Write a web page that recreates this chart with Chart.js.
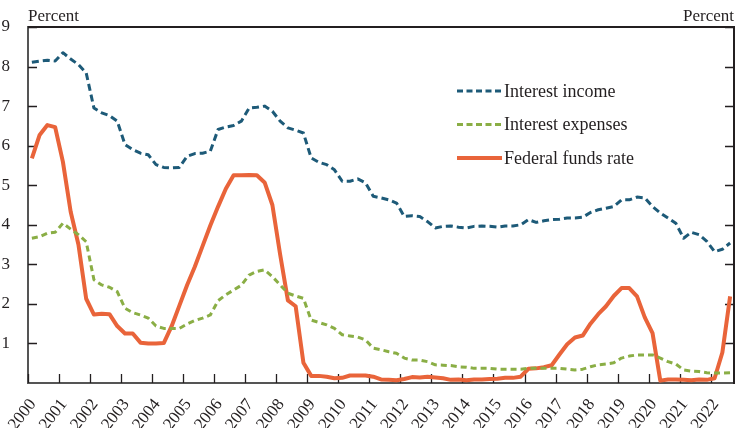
<!DOCTYPE html>
<html><head><meta charset="utf-8">
<script src="https://cdn.jsdelivr.net/npm/chart.js@4/dist/chart.umd.min.js"></script>
<style>
html,body{margin:0;padding:0;overflow:hidden;background:#fff;width:751px;height:428px}
canvas{display:block}
</style></head>
<body>
<canvas id="c" width="770" height="428" style="width:770px;height:428px"></canvas>
<script>
// Categories: quarterly observations, 2000 Q1 .. 2022 Q3
const years = [2000,2001,2002,2003,2004,2005,2006,2007,2008,2009,2010,2011,2012,2013,2014,2015,2016,2017,2018,2019,2020,2021,2022];
const quartersPerYear = 4;

// Series values (percent), one per quarter
const interestIncome = [
  8.11,8.14,8.16,8.14, 8.35,8.19,8.05,7.84, 6.95,6.83,6.76,6.62, 6.03,5.90,5.81,5.77,
  5.52,5.45,5.44,5.45, 5.73,5.80,5.81,5.86, 6.41,6.47,6.51,6.62, 6.95,6.97,7.00,6.87,
  6.62,6.45,6.39,6.32, 5.69,5.58,5.52,5.39, 5.10,5.10,5.16,5.06, 4.72,4.68,4.63,4.55,
  4.21,4.23,4.21,4.08, 3.92,3.96,3.97,3.94, 3.92,3.96,3.97,3.96, 3.94,3.97,3.97,4.00,
  4.13,4.06,4.10,4.13, 4.14,4.17,4.17,4.19, 4.31,4.38,4.42,4.46, 4.63,4.63,4.70,4.68,
  4.46,4.30,4.17,4.04, 3.66,3.81,3.75,3.58, 3.32,3.38,3.54
];
const interestExpenses = [
  3.66,3.70,3.79,3.81, 4.04,3.89,3.75,3.57, 2.61,2.48,2.42,2.31, 1.89,1.78,1.72,1.64,
  1.44,1.38,1.38,1.38, 1.49,1.58,1.64,1.72, 2.08,2.23,2.35,2.47, 2.73,2.82,2.86,2.69,
  2.48,2.27,2.20,2.14, 1.59,1.53,1.47,1.38, 1.22,1.19,1.16,1.09, 0.88,0.84,0.79,0.75,
  0.63,0.58,0.58,0.54, 0.46,0.45,0.44,0.41, 0.40,0.37,0.37,0.37, 0.35,0.35,0.35,0.35,
  0.37,0.37,0.37,0.37, 0.37,0.35,0.33,0.35, 0.41,0.46,0.48,0.51, 0.63,0.68,0.71,0.71,
  0.71,0.63,0.54,0.48, 0.33,0.30,0.29,0.26, 0.25,0.25,0.26
];
const fedFunds = [
  5.68,6.27,6.52,6.47, 5.59,4.33,3.50,2.13, 1.73,1.75,1.74,1.44, 1.25,1.25,1.02,1.00,
  1.00,1.01,1.43,1.95, 2.47,2.94,3.46,3.98, 4.46,4.91,5.25,5.25, 5.26,5.25,5.07,4.50,
  3.25,2.09,1.94,0.51, 0.18,0.18,0.16,0.12, 0.13,0.19,0.19,0.19, 0.16,0.09,0.08,0.07,
  0.10,0.15,0.14,0.16, 0.14,0.12,0.08,0.09, 0.07,0.09,0.09,0.10, 0.11,0.13,0.13,0.16,
  0.36,0.37,0.40,0.45, 0.72,0.98,1.15,1.20, 1.50,1.74,1.94,2.20, 2.40,2.40,2.19,1.66,
  1.26,0.06,0.09,0.09, 0.08,0.07,0.09,0.08, 0.12,0.77,2.19
];

// Tick labels
const xTickYears = years;
const yTickValues = [1,2,3,4,5,6,7,8,9];
const seriesNames = ["Interest income","Interest expenses","Federal funds rate"];
const axisTitle = "Percent";

// ---- build the chart ----
const COLORS = { income:'#1d5a78', expenses:'#8aae45', fed:'#e9643a', text:'#231f20' };
const FONT = '"Liberation Serif", "Times New Roman", serif';

function toPoints(vals){
  return vals.map((v,i)=>({ x: years[0] + (i + 0.5) / quartersPerYear, y: v }));
}

const legendItems = [
  { label: seriesNames[0], color: COLORS.income, dash:[6,3.5], width:3 },
  { label: seriesNames[1], color: COLORS.expenses, dash:[6,3.5], width:3 },
  { label: seriesNames[2], color: COLORS.fed, dash:[], width:4 }
];

const decor = {
  id:'decor',
  beforeDatasetsDraw(chart){
    const {ctx, chartArea:a, scales} = chart;
    ctx.save();
    ctx.strokeStyle = '#231f20';
    ctx.lineWidth = 1.3;
    ctx.beginPath();
    xTickYears.forEach(yr=>{
      const px = Math.round(scales.x.getPixelForValue(yr)) + 0.5;
      ctx.moveTo(px, a.bottom); ctx.lineTo(px, a.bottom - 9);
    });
    yTickValues.forEach(v=>{
      const py = Math.round(scales.y.getPixelForValue(v)) + 0.5;
      ctx.moveTo(a.left, py); ctx.lineTo(a.left + 9, py);
      ctx.moveTo(a.right, py); ctx.lineTo(a.right - 9, py);
    });
    ctx.stroke();
    // top frame line
    ctx.lineWidth = 2;
    ctx.beginPath();
    ctx.moveTo(a.left, a.top); ctx.lineTo(a.right + 1, a.top);
    ctx.stroke();
    ctx.restore();
  },
  afterDraw(chart){
    const {ctx, chartArea:a} = chart;
    ctx.save();
    ctx.fillStyle = COLORS.text;
    ctx.font = '17px ' + FONT;
    ctx.textBaseline = 'alphabetic';
    ctx.textAlign = 'left';
    ctx.fillText(axisTitle, a.left, a.top - 6);
    ctx.textAlign = 'right';
    ctx.fillText(axisTitle, a.right, a.top - 6);
    // legend
    const lx0 = 457, lx1 = 502, ly0 = 91, step = 33.5;
    legendItems.forEach((it, i)=>{
      const y = ly0 + i * step;
      ctx.strokeStyle = it.color;
      ctx.lineWidth = it.width;
      ctx.setLineDash(it.dash);
      ctx.beginPath(); ctx.moveTo(lx0, y); ctx.lineTo(lx1, y); ctx.stroke();
      ctx.setLineDash([]);
      ctx.fillStyle = COLORS.text;
      ctx.font = '18px ' + FONT;
      ctx.textAlign = 'left';
      ctx.textBaseline = 'middle';
      ctx.fillText(it.label, lx1 + 2, y + 1);
    });
    ctx.restore();
  }
};

const tickFont = { family: FONT, size: 17 };

new Chart(document.getElementById('c'), {
  type:'line',
  data:{
    datasets:[
      { label: seriesNames[0], data: toPoints(interestIncome), borderColor: COLORS.income, borderWidth:3, borderDash:[7,4], pointRadius:0, tension:0, borderJoinStyle:'round', yAxisID:'y' },
      { label: seriesNames[1], data: toPoints(interestExpenses), borderColor: COLORS.expenses, borderWidth:3, borderDash:[6,4], pointRadius:0, tension:0, borderJoinStyle:'round', yAxisID:'y' },
      { label: seriesNames[2], data: toPoints(fedFunds), borderColor: COLORS.fed, borderWidth:4, pointRadius:0, tension:0, borderJoinStyle:'round', yAxisID:'y' }
    ]
  },
  options:{
    responsive:false,
    animation:false,
    layout:{ padding:{ top:27, left:0, right:0, bottom:0 } },
    plugins:{ legend:{ display:false }, tooltip:{ enabled:false } },
    scales:{
      x:{
        type:'linear',
        min: years[0],
        max: years[years.length-1] + 0.75,
        grid:{ display:false },
        border:{ display:true, color:'#555', width:2 },
        ticks:{
          stepSize:1, includeBounds:false, autoSkip:false,
          minRotation:52, maxRotation:52, padding:4, labelOffset:5,
          color: COLORS.text, font: tickFont,
          callback: v => String(v)
        },
        afterFit: s => { s.height = 45; }
      },
      y:{
        position:'left', min:0, max:9,
        grid:{ display:false },
        border:{ display:true, color:'#555', width:2 },
        ticks:{ stepSize:1, padding:10, color: COLORS.text, font: tickFont, callback: v => v === 0 ? '' : String(v) },
        afterFit: s => { s.width = 28; }
      },
      y2:{
        position:'right', min:0, max:9,
        grid:{ display:false },
        border:{ display:true, color:'#231f20', width:2 },
        ticks:{ stepSize:1, padding:10, color: COLORS.text, font: tickFont, callback: v => v === 0 ? '' : String(v) },
        afterFit: s => { s.width = 36; }
      }
    }
  },
  plugins:[decor]
});
</script>
</body></html>
